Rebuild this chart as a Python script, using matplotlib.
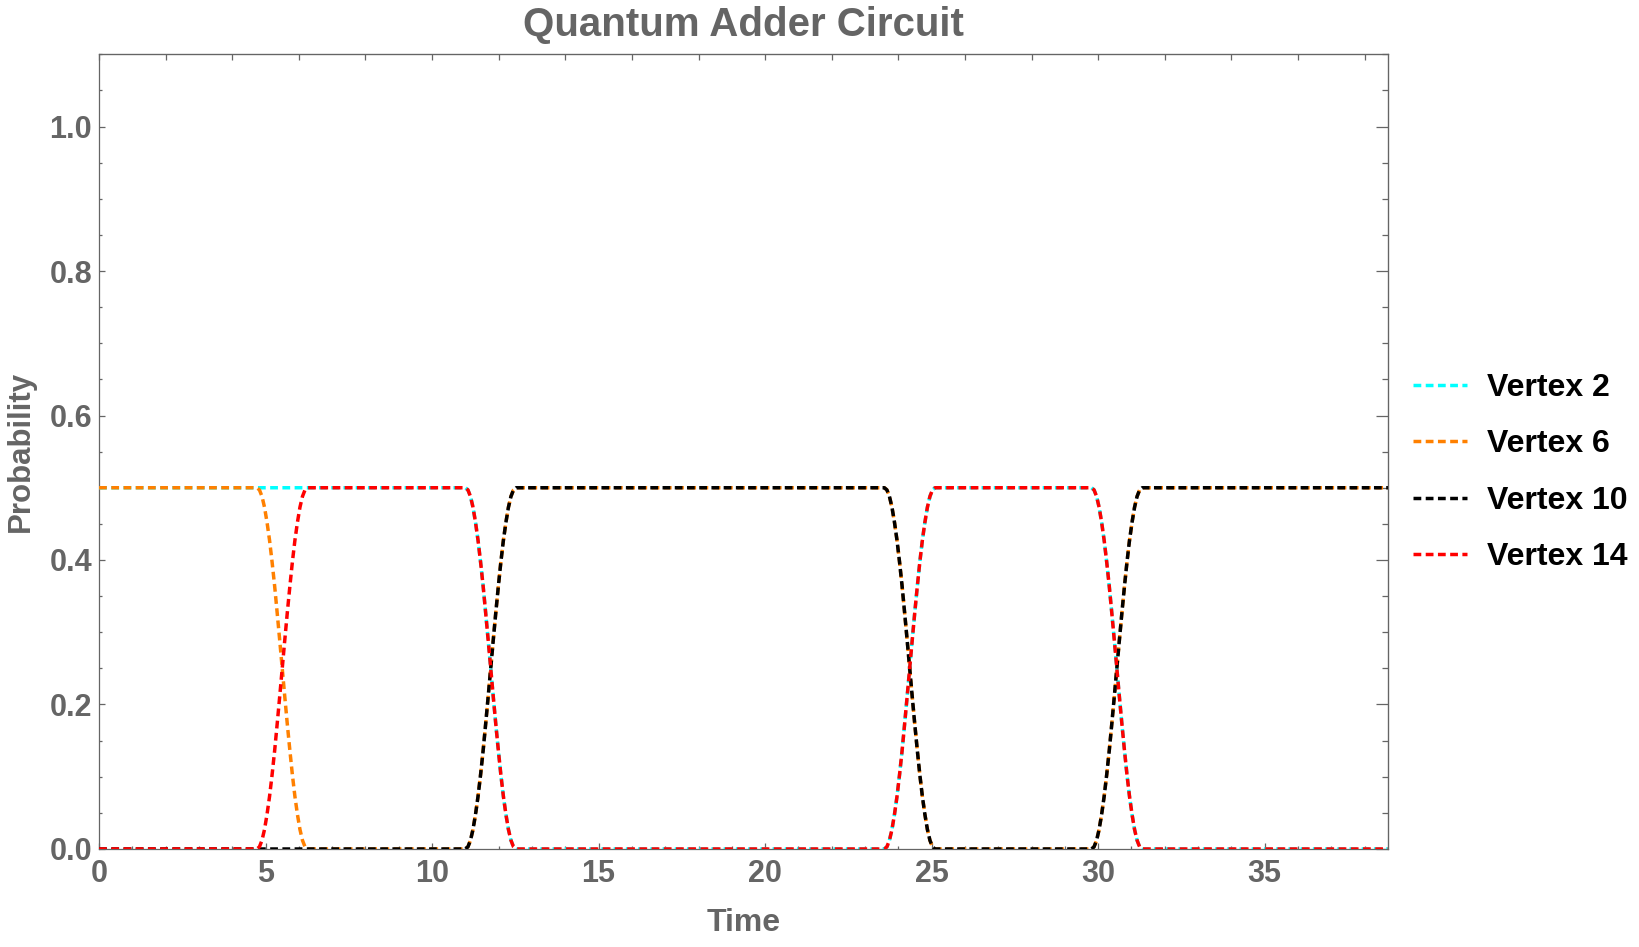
import numpy as np
import matplotlib
matplotlib.use("Agg")
import matplotlib.pyplot as plt

plt.rcParams["font.family"] = ["Liberation Sans", "DejaVu Sans"]
plt.rcParams["font.weight"] = "bold"
plt.rcParams["axes.labelweight"] = "bold"
plt.rcParams["axes.titleweight"] = "bold"
plt.rcParams["lines.scale_dashes"] = False

# --- data ---
t_end = 38.7
swap_start = [4.74, 11.0, 23.58, 29.8]    # time where each swap begins
swap_width = 1.52                          # duration of a swap
# falling edge 0.5 -> 0, sampled evenly over one swap
swap_fall = [0.5, 0.497, 0.488, 0.473, 0.452, 0.427, 0.397, 0.364, 0.327, 0.289,
             0.25, 0.211, 0.173, 0.137, 0.103, 0.073, 0.048, 0.027, 0.012, 0.003, 0.0]

# probability level on each plateau (before swap 1, between swaps, after swap 4)
vertex2_levels = [0.5, 0.5, 0.0, 0.5, 0.0]
vertex6_levels = [0.5, 0.0, 0.5, 0.0, 0.5]
vertex10_levels = [0.0, 0.0, 0.5, 0.0, 0.5]
vertex14_levels = [0.0, 0.5, 0.0, 0.5, 0.0]

labels = ["Vertex 2", "Vertex 6", "Vertex 10", "Vertex 14"]
colors = ["#00FFFF", "#FF8000", "#000000", "#FF0000"]
GRAY = "#656565"


def build_curve(levels):
    t = [0.0]
    p = [levels[0]]
    u = np.linspace(0, 1, len(swap_fall))
    fall = np.array(swap_fall)
    for k, t0 in enumerate(swap_start):
        a, b = levels[k], levels[k + 1]
        if a == b:
            t += [t0, t0 + swap_width]
            p += [a, a]
        else:
            shape = fall if a > b else 0.5 - fall
            t += list(t0 + u * swap_width)
            p += list(shape)
    t.append(t_end)
    p.append(levels[-1])
    return t, p


fig = plt.figure(figsize=(16.4, 9.47), dpi=100)
ax = fig.add_axes([0.0604, 0.1035, 0.7859, 0.8392])

all_levels = [vertex2_levels, vertex6_levels, vertex10_levels, vertex14_levels]
for i, (lv, lab, col) in enumerate(zip(all_levels, labels, colors)):
    t, p = build_curve(lv)
    ax.plot(t, p, color=col, lw=2.5, linestyle=(0, (5.6, 3.2)), label=lab, zorder=3 + i)

ax.set_xlim(0, t_end)
ax.set_ylim(0, 1.1)

for s in ax.spines.values():
    s.set_color(GRAY)
    s.set_linewidth(0.9)

ax.set_xticks(np.arange(0, 36, 5))
ax.set_xticks(np.arange(0, 39, 1), minor=True)
ax.set_yticks(np.arange(0, 1.01, 0.2))
ax.set_yticks(np.arange(0, 1.101, 0.05), minor=True)
ax.tick_params(which="major", direction="in", length=4.3, width=0.9, color=GRAY,
               labelsize=22, labelcolor=GRAY, pad=5)
ax.tick_params(which="minor", direction="in", length=2.0, width=0.9, color=GRAY)
ax.tick_params(axis="x", pad=7)

# top and right frame ticks (unlabelled)
top = ax.secondary_xaxis("top")
top.set_xticks(np.arange(0, 39, 2))
top.tick_params(direction="in", length=4.3, width=0.9, color=GRAY, labeltop=False)
top.spines["top"].set_color(GRAY)

right = ax.secondary_yaxis("right")
right.set_yticks(np.arange(0, 1.01, 0.2))
right.set_yticks(np.arange(0, 1.101, 0.05), minor=True)
right.tick_params(which="major", direction="in", length=8.6, width=0.9, color=GRAY, labelright=False)
right.tick_params(which="minor", direction="in", length=4.3, width=0.9, color=GRAY)
right.spines["right"].set_color(GRAY)

ax.set_title("Quantum Adder Circuit", fontsize=29, color=GRAY, fontweight="bold", pad=13)
ax.set_xlabel("Time", fontsize=23, color=GRAY, fontweight="bold", labelpad=14)
ax.set_ylabel("Probability", fontsize=22.5, color=GRAY, fontweight="bold", labelpad=10)

ax.legend(loc="center left", bbox_to_anchor=(0.8616, 0.501), bbox_transform=fig.transFigure,
          frameon=False, fontsize=23, handlelength=1.69, handletextpad=0.63,
          labelspacing=0.83, borderpad=0, borderaxespad=0)

fig.savefig("out.png", dpi=100)
